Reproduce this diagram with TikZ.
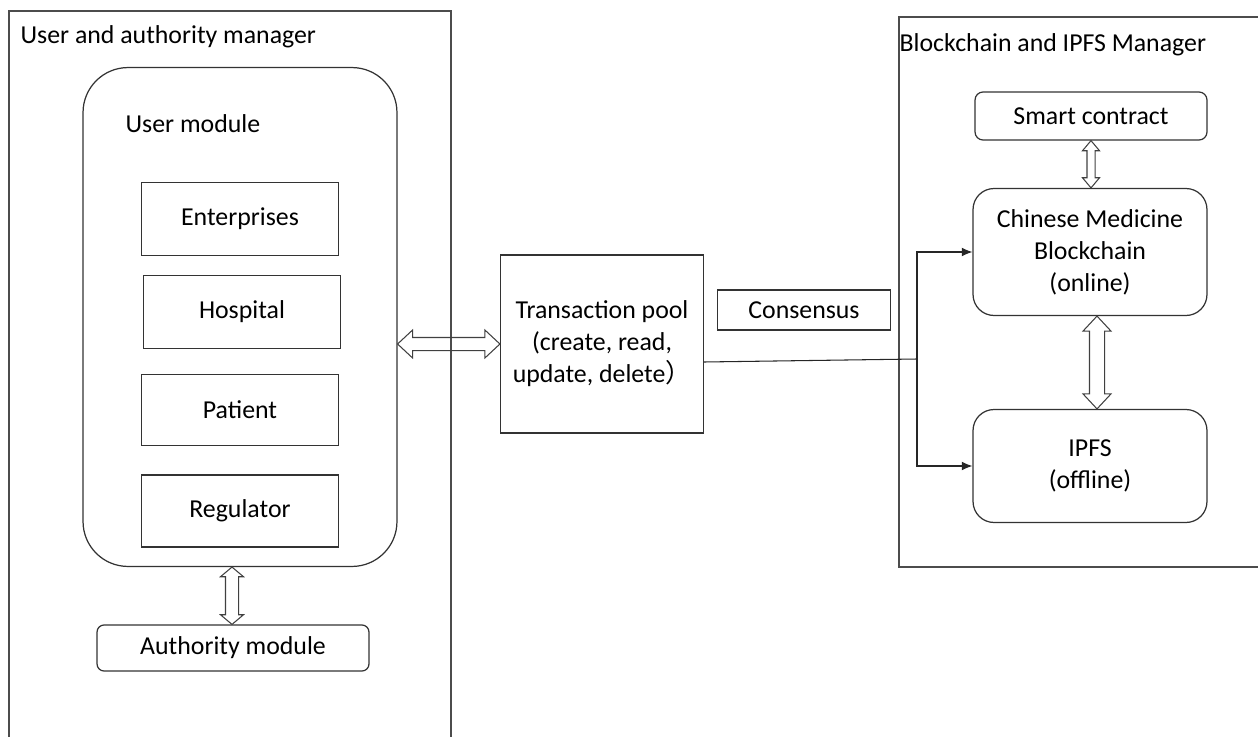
\documentclass[tikz,border=0pt]{standalone}
\usepackage{fontspec}
\setmainfont{Carlito}
\newfontfamily\cjk{Noto Sans CJK SC}
\usetikzlibrary{arrows.meta, positioning, calc, shapes.arrows}

\begin{document}
\begin{tikzpicture}[x=0.02cm, y=-0.02cm, line width=0.7pt,
    font=\fontsize{14.7}{18.2}\selectfont,
    frame/.style={draw=black!70, line width=0.9pt},
    box/.style={draw=black!80, minimum width=3.94cm, minimum height=1.46cm},
    rbox/.style={draw=black!80, rounded corners=#1, align=center},
    % hollow two-way arrow: half shaft, head overhang, tip angle
    dbl/.style n args={3}{to path={
      let \p1=(\tikztostart), \p2=(\tikztotarget),
          \n1={atan2(\y2-\y1,\x2-\x1)}, \n2={veclen(\x2-\x1,\y2-\y1)} in
      node[double arrow, draw=black!75, line width=0.6pt, inner sep=0pt,
        minimum width=0pt, inner ysep=#1, double arrow head extend=#2,
        double arrow tip angle=#3, rotate=\n1, minimum height=\n2]
        at ($(\p1)!0.5!(\p2)$) {} (\tikztotarget)}},
    feed/.style={draw=black!85, line width=0.6pt, -{Latex[length=6pt,width=5pt]}}]
  \useasboundingbox (0,0) rectangle (1258,737);

  % the two managers
  \draw[frame] (9,740) -- (9,11) -- (451,11) -- (451,740);
  \node[anchor=west, inner sep=0pt] (uam) at (20,37) {User and authority manager};
  \draw[frame] (1260,17) -- (899,17) -- (899,567) -- (1260,567);
  \node[anchor=west, inner sep=0pt] (bim) at (899,45) {Blockchain and IPFS Manager};

  % user side
  \node[rbox=0.9cm, minimum width=6.28cm, minimum height=9.98cm] (usermod) at (240,317) {};
  \node[anchor=west, inner sep=0pt] (umtitle) at (125,124) {User module};
  \node[box] (ent) at (240,219) {Enterprises};
  \node[box] (hosp) at (242,312) {Hospital};
  \node[box, minimum height=1.42cm] (pat) at (240,410) {Patient};
  \node[box, minimum height=1.44cm] (reg) at (240,511) {Regulator};
  \node[rbox=0.14cm, minimum width=5.44cm, minimum height=0.92cm] (auth) at (233,648) {Authority module};

  % transactions
  \node[draw=black!80, minimum width=4.06cm, minimum height=3.56cm, align=center] (pool) at (602,344)
    {Transaction pool\\(create, read,\\update, delete{\cjk ）}};
  \node[draw=black!80, minimum width=3.46cm, minimum height=0.8cm] (cons) at (804,310) {Consensus};

  % blockchain side
  \node[rbox=0.16cm, minimum width=4.64cm, minimum height=0.96cm] (smart) at (1091,116) {Smart contract};
  \node[rbox=0.42cm, minimum width=4.68cm, minimum height=2.54cm] (chain) at (1090,252)
    {Chinese Medicine\\Blockchain\\(online)};
  \node[rbox=0.42cm, minimum width=4.68cm, minimum height=2.26cm] (ipfs) at (1090,466)
    {IPFS\\(offline)};

  % two-way links
  \path (usermod.east |- pool.west) to[dbl={0.12cm}{0.15cm}{86}] (pool.west);
  \path ([xshift=-0.16cm]usermod.south) to[dbl={0.12cm}{0.1cm}{100}] ([xshift=-0.16cm]usermod.south |- auth.north);
  \path (smart.south) to[dbl={0.07cm}{0.09cm}{80}] (smart.south |- chain.north);
  \path ([xshift=0.14cm]chain.south) to[dbl={0.14cm}{0.13cm}{86}] ([xshift=0.14cm]chain.south |- ipfs.north);

  % pool feeds both stores
  \coordinate (split) at (917,359);
  \draw[draw=black!85, line width=0.6pt] ([yshift=-0.36cm]pool.east) -- (split);
  \draw[feed] (split) |- (chain.west);
  \draw[feed] (split) |- (ipfs.west);
\end{tikzpicture}
\end{document}
